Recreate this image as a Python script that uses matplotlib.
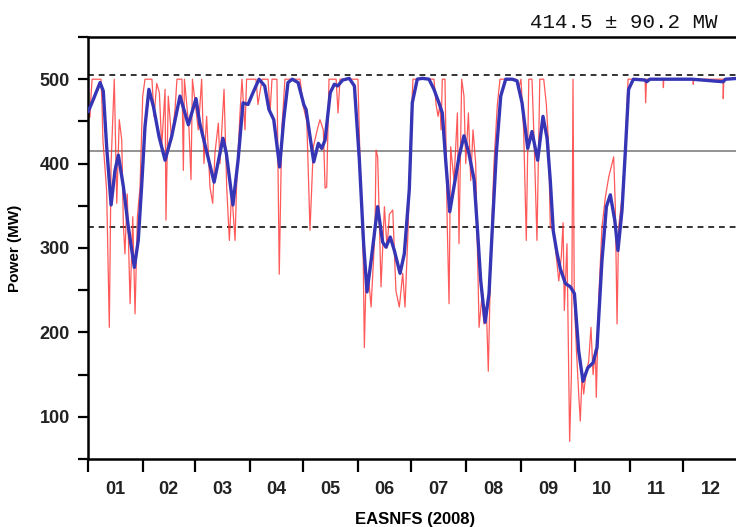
import matplotlib
matplotlib.use("Agg")
import matplotlib.pyplot as plt
import numpy as np

# power time series for 2008, x in day of year
red_day = [0.0, 0.6, 1.1, 1.7, 2.3, 7.3, 7.9, 8.4, 10.5, 12.0, 13.0, 14.8, 16.2, 17.6, 19.0,
           19.9, 20.8, 22.1, 23.7, 25.2, 26.5, 27.8, 29.3, 30.8, 32.1, 36.0, 37.2, 38.7,
           40.2, 41.5, 43.4, 43.9, 45.2, 47.1, 49.0, 50.1, 52.9, 53.7, 54.3, 56.9, 58.0,
           58.8, 62.1, 64.0, 65.3, 66.8, 68.7, 70.2, 71.5, 73.4, 74.3, 76.6, 78.1, 79.6,
           80.9, 82.8, 83.7, 85.6, 86.7, 88.4, 89.3, 94.6, 95.7, 98.0, 101.4, 102.5, 103.6,
           106.4, 107.7, 109.1, 110.9, 119.4, 121.2, 123.2, 125.0, 126.9, 129.1, 130.6,
           132.5, 133.5, 134.4, 135.7, 139.7, 140.8, 141.9, 152.0, 153.2, 155.0, 155.6,
           156.5, 157.8, 159.4, 161.6, 162.2, 163.1, 165.0, 166.9, 168.4, 169.7, 171.6,
           173.4, 175.3, 177.2, 178.5, 180.2, 181.9, 183.0, 194.8, 196.0, 197.1, 198.2,
           198.8, 199.5, 201.0, 202.3, 203.3, 204.2, 206.1, 208.0, 208.9, 210.4, 211.7,
           212.7, 214.2, 215.5, 216.8, 218.3, 220.2, 221.7, 223.0, 224.3, 225.4, 226.8,
           228.6, 230.5, 232.0, 241.0, 242.7, 243.8, 245.3, 246.8, 248.2, 250.0, 251.3,
           252.8, 254.4, 256.6, 258.1, 259.4, 260.3, 262.2, 263.7, 265.1, 266.5, 267.5,
           268.2, 269.7, 271.2, 272.2, 273.1, 273.8, 275.0, 276.3, 277.2, 278.2, 279.1,
           280.6, 281.9, 283.2, 284.4, 285.7, 286.2, 287.6, 289.4, 291.3, 293.2, 295.1,
           296.0, 296.9, 297.9, 298.8, 300.7, 302.6, 304.1, 313.7, 314.0, 314.5, 323.8,
           324.0, 324.2, 340.7, 340.8, 341.1, 357.6, 357.7, 358.0, 366.0]
red_mw = [430, 470, 455, 480, 500, 500, 470, 428, 368, 206, 400, 500, 353, 452, 428,
          329, 293, 364, 234, 337, 222, 337, 372, 480, 500, 500, 456, 495,
          484, 420, 488, 333, 480, 428, 464, 500, 500, 392, 500, 440, 381,
          500, 440, 500, 400, 456, 372, 353, 413, 448, 400, 488, 372, 309,
          368, 309, 376, 460, 500, 440, 500, 500, 470, 500, 500, 460, 500,
          500, 269, 440, 500, 500, 468, 450, 321, 420, 440, 452,
          440, 371, 372, 500, 500, 460, 500, 500, 400, 285, 182,
          260, 269, 230, 321, 416, 408, 254, 349, 300, 340, 345,
          249, 230, 270, 230, 320, 450, 500, 500, 470, 456, 470,
          440, 500, 500, 325, 234, 420, 380, 460, 305, 500, 480,
          400, 460, 380, 440, 400, 206, 240, 210, 230, 154, 290,
          400, 470, 500, 500, 490, 500, 440, 309, 500, 500, 420,
          309, 500, 500, 470, 420, 325, 320, 290, 261, 290, 330,
          226, 305, 71, 150, 500, 240, 180, 127, 95, 150, 127,
          155, 165, 206, 150, 180, 123, 240, 325, 360, 384, 400,
          408, 350, 210, 325, 360, 420, 500, 500, 472, 500, 500,
          490, 500, 500, 494, 500, 500, 477, 500, 500]

blue_day = [0.2, 3.0, 6.8, 8.6, 10.5, 13.0, 15.2, 17.1, 19.9, 22.7, 26.1, 28.3, 30.2, 32.1,
            34.3, 36.8, 40.0, 43.4, 47.1, 51.8, 56.5, 60.8, 62.9, 66.6, 71.0, 76.0, 77.9,
            81.6, 84.5, 87.3, 90.1, 92.9, 96.3, 99.5, 101.9, 104.6, 107.9, 110.2, 112.6,
            115.0, 118.3, 121.5, 122.8, 127.1, 129.7, 131.6, 133.5, 136.4, 138.7, 140.6,
            143.4, 147.1, 150.0, 152.8, 155.2, 157.1, 159.4, 163.1, 165.9, 167.8, 170.2,
            172.5, 175.7, 178.1, 180.9, 182.6, 185.4, 188.2, 192.0, 194.8, 197.6, 199.5,
            201.4, 203.7, 206.1, 208.9, 211.7, 214.5, 217.4, 219.2, 221.1, 223.6, 225.8,
            227.7, 229.9, 232.4, 235.2, 238.9, 241.6, 244.4, 247.6, 250.0, 253.2, 256.2,
            258.5, 260.3, 262.0, 264.0, 266.0, 268.8, 271.6, 273.9, 276.3, 278.7, 281.4,
            284.4, 286.6, 289.4, 291.9, 294.1, 296.6, 298.4, 300.7, 302.6, 304.4, 307.1,
            313.6, 314.6, 316.4, 340.0, 357.6, 359.0, 366.0]
blue_mw = [462, 476, 496, 486, 420, 351, 392, 410, 373, 325, 277, 309, 373, 444,
           488, 468, 432, 404, 432, 480, 446, 477, 448, 416, 378, 430, 412,
           351, 404, 472, 470, 484, 500, 492, 464, 452, 396, 452, 496,
           500, 496, 470, 464, 402, 424, 418, 428, 484, 494, 492,
           499, 501, 492, 404, 305, 248, 285, 349, 307, 301, 313,
           297, 270, 293, 369, 472, 500, 501, 500, 488, 472, 460,
           404, 343, 373, 408, 433, 412, 381, 325, 262, 212, 246,
           325, 412, 480, 500, 500, 498, 472, 418, 438, 404, 456,
           430, 380, 320, 295, 275, 258, 254, 246, 178, 142, 158,
           164, 182, 285, 349, 363, 333, 297, 345, 416, 488, 500,
           499, 497, 500, 500, 497, 500, 501]

mean_mw = 414.5
std_mw = 90.2
month_labels = ["01", "02", "03", "04", "05", "06", "07", "08", "09", "10", "11", "12"]
month_len = [31, 29, 31, 30, 31, 30, 31, 31, 30, 31, 30, 31]

font = "Liberation Sans"

fig = plt.figure(figsize=(7.36, 5.27), dpi=100)
ax = fig.add_axes([88 / 736, 68 / 527, 650 / 736, 422 / 527])

ax.axhline(mean_mw + std_mw, color="#333333", lw=1.4, ls=(0, (3, 2.5)), zorder=1)
ax.axhline(mean_mw - std_mw, color="#333333", lw=1.4, ls=(0, (3, 2.5)), zorder=1)
ax.axhline(mean_mw, color="#8a8a8a", lw=1.3, zorder=1)
ax.plot(red_day, red_mw, color="#ff3030", lw=0.9, alpha=0.8, zorder=2)
ax.plot(blue_day, blue_mw, color="#3535b5", lw=2.4, zorder=3, solid_joinstyle="round")

edges = np.concatenate([[0], np.cumsum(month_len)])
centers = (edges[:-1] + edges[1:]) / 2
ax.set_xlim(0, 366)
ax.set_ylim(50, 550)
ax.set_xticks(edges)
ax.set_xticklabels([])
ax.set_xticks(centers, minor=True)
ax.set_xticklabels(month_labels, minor=True)
ax.tick_params(axis="x", which="major", direction="out", length=9, width=1.6)
ax.tick_params(axis="x", which="minor", length=0, pad=16)
ax.set_yticks([100, 200, 300, 400, 500])
ax.set_yticks([50, 150, 250, 350, 450, 550], minor=True)
ax.tick_params(axis="y", which="both", direction="out", length=7, width=1.6, pad=6)

for lab in ax.get_xticklabels(minor=True) + ax.get_yticklabels():
    lab.set_fontfamily(font)
    lab.set_fontweight("bold")
    lab.set_fontsize(13)
    lab.set_color("#222222")

for side in ["left", "bottom", "top", "right"]:
    ax.spines[side].set_linewidth(1.8)

ax.set_ylabel("Power (MW)", fontfamily=font, fontweight="bold", fontsize=11)
ax.yaxis.set_label_coords(-(88 - 22) / 650, 0.5)
ax.set_xlabel("EASNFS (2008)", fontfamily=font, fontweight="bold", fontsize=12)
ax.xaxis.set_label_coords((415 - 88) / 650, -0.125)

fig.text(718 / 736, 1 - 22 / 527, "414.5 \u00b1 90.2 MW", ha="right", va="center",
         fontfamily="Liberation Mono", fontsize=15, color="#111111")

fig.savefig("out.png", dpi=100)
